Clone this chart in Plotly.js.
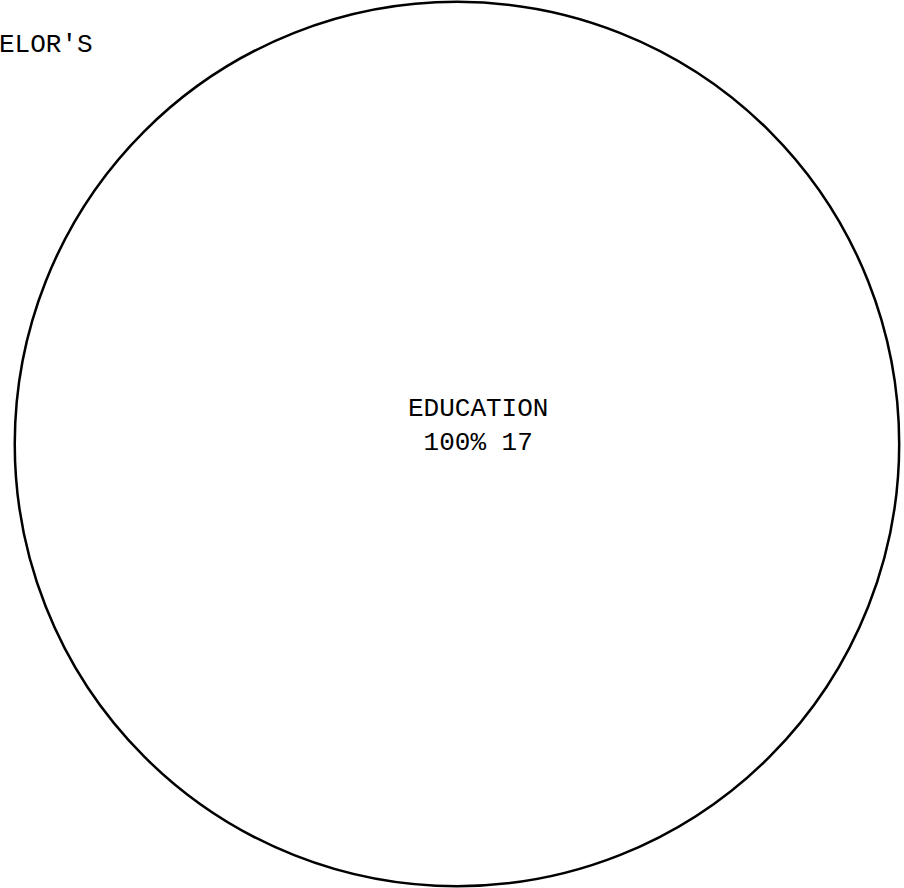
<!DOCTYPE html>
<html>
<head>
<meta charset="utf-8">
<script src="https://cdn.plot.ly/plotly-3.0.1.min.js"></script>
<style>html,body{margin:0;padding:0;background:#fff;}#chart{width:904px;height:888px;}</style>
</head>
<body>
<div id="chart"></div>
<script>
const labels = ["EDUCATION"];
const values = [17];
const headerText = "ELOR'S";

const total = values.reduce((a, b) => a + b, 0);
const sliceText = labels.map((l, i) => l + "<br>" + Math.round(100 * values[i] / total) + "% " + values[i]);

const FONT = "Liberation Mono, Courier New, monospace";

const trace = {
  type: "pie",
  labels: labels,
  values: values,
  sort: false,
  direction: "clockwise",
  marker: { colors: ["#ffffff"], line: { color: "#000000", width: 2.5 } },
  textinfo: "none",
  hoverinfo: "none",
  showlegend: false,
  domain: { x: [0.011, 1.0], y: [0.002, 0.998] }
};

const layout = {
  width: 904,
  height: 888,
  margin: { l: 0, r: 0, t: 0, b: 0 },
  paper_bgcolor: "#ffffff",
  plot_bgcolor: "#ffffff",
  showlegend: false,
  annotations: [
    {
      text: headerText,
      xref: "paper", yref: "paper",
      x: 0, y: 0.968,
      xanchor: "left", yanchor: "top",
      xshift: -3,
      showarrow: false,
      font: { family: FONT, size: 26, color: "#000000" }
    },
    {
      text: sliceText[0],
      xref: "paper", yref: "paper",
      x: 0.529, y: 0.52,
      xanchor: "center", yanchor: "middle",
      align: "center",
      showarrow: false,
      font: { family: FONT, size: 26, color: "#000000" }
    }
  ]
};

Plotly.newPlot("chart", [trace], layout, { displayModeBar: false, staticPlot: true });
</script>
</body>
</html>
